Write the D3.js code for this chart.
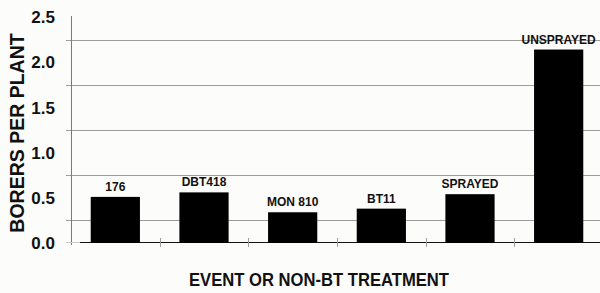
<!DOCTYPE html>
<html>
<head>
<meta charset="utf-8">
<script src="https://cdn.jsdelivr.net/npm/d3@7"></script>
<style>
html,body{margin:0;padding:0;background:#fcfcfa;}
svg{display:block;font-family:"Liberation Sans",Arial,sans-serif;font-weight:bold;}
</style>
</head>
<body>
<svg id="chart" width="600" height="293"></svg>
<script>
const categories = ["176", "DBT418", "MON 810", "BT11", "SPRAYED", "UNSPRAYED"];
const borersPerPlant = [0.51, 0.56, 0.34, 0.38, 0.54, 2.14];
const yTickLabels = [0, 0.5, 1.0, 1.5, 2.0, 2.5];
const gridValues = [0.25, 0.75, 1.25, 1.75, 2.25];
const xTitle = "EVENT OR NON-BT TREATMENT";
const yTitle = "BORERS PER PLANT";

const svg = d3.select("#chart");
const W = 600, H = 293;
svg.append("rect").attr("width", W).attr("height", H).attr("fill", "#fcfcfa");

const x = d3.scaleBand().domain(categories).range([71, 603]).paddingInner(0.445).paddingOuter(0.2225);
const y = d3.scaleLinear().domain([0, 2.5]).range([243, 17]);

// gridlines
svg.append("g").selectAll("line").data(gridValues).join("line")
  .attr("x1", 66).attr("x2", 603)
  .attr("y1", d => Math.round(y(d)) + 0.5).attr("y2", d => Math.round(y(d)) + 0.5)
  .attr("stroke", "#9c9c9c").attr("stroke-width", 1);

// y axis line
svg.append("line").attr("x1", 71.5).attr("x2", 71.5).attr("y1", y(2.5) - 1).attr("y2", y(0) + 2)
  .attr("stroke", "#7a7a7a").attr("stroke-width", 1);

// baseline
svg.append("line").attr("x1", 66).attr("x2", 80).attr("y1", 242.5).attr("y2", 242.5)
  .attr("stroke", "#c8c8c8").attr("stroke-width", 1);
svg.append("line").attr("x1", 80).attr("x2", 603).attr("y1", 242.5).attr("y2", 242.5)
  .attr("stroke", "#111").attr("stroke-width", 1);

// category boundary ticks
const step = x.step();
svg.append("g").selectAll("line").data(categories.slice(0, -1)).join("line")
  .attr("x1", d => Math.round(x(d) + x.bandwidth() + (step - x.bandwidth()) / 2) + 0.5)
  .attr("x2", d => Math.round(x(d) + x.bandwidth() + (step - x.bandwidth()) / 2) + 0.5)
  .attr("y1", 238).attr("y2", 247)
  .attr("stroke", "#9c9c9c").attr("stroke-width", 1);

// bars
const data = categories.map((c, i) => ({c, v: borersPerPlant[i]}));
svg.append("g").selectAll("rect").data(data).join("rect")
  .attr("x", d => x(d.c)).attr("width", x.bandwidth())
  .attr("y", d => y(d.v)).attr("height", d => y(0) - y(d.v))
  .attr("fill", "#000");

// bar labels
svg.append("g").selectAll("text").data(data).join("text")
  .attr("x", d => x(d.c) + x.bandwidth() / 2)
  .attr("y", d => y(d.v) - 6)
  .attr("text-anchor", "middle")
  .attr("font-size", 12).attr("fill", "#111")
  .text(d => d.c);

// y tick labels
svg.append("g").selectAll("text").data(yTickLabels).join("text")
  .attr("x", 55).attr("y", d => y(d))
  .attr("dy", "0.36em")
  .attr("text-anchor", "end")
  .attr("font-size", 17).attr("fill", "#111")
  .text(d => d.toFixed(1));

// y title
svg.append("text")
  .attr("transform", "translate(24,133) rotate(-90)")
  .attr("text-anchor", "middle")
  .attr("font-size", 19.5).attr("fill", "#111")
  .text(yTitle);

// x title
svg.append("text")
  .attr("x", 189).attr("y", 286)
  .attr("font-size", 19).attr("fill", "#111")
  .attr("textLength", 260).attr("lengthAdjust", "spacingAndGlyphs")
  .text(xTitle);
</script>
</body>
</html>
